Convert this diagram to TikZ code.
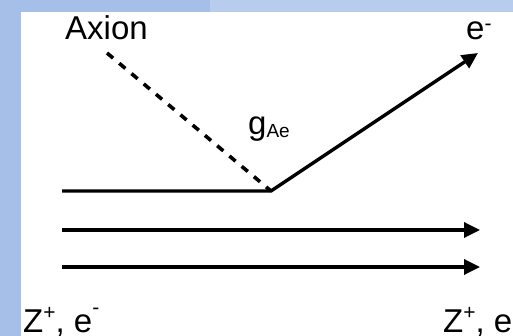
\documentclass[tikz,border=0pt]{standalone}
\usepackage{fontspec}
\setmainfont{Liberation Sans}
\usetikzlibrary{arrows.meta}
\definecolor{stripA}{HTML}{A5BFE8}
\definecolor{stripB}{HTML}{B8CDEE}
\newcommand\supr[2]{\raisebox{#1}{\fontsize{21}{21}\selectfont #2}}
\begin{document}
\begin{tikzpicture}[x=1pt,y=-1pt,
  lbl/.style={inner sep=0pt, anchor=base west, font=\fontsize{33}{40}\selectfont},
  ln/.style={line width=3.4pt},
  arr/.style={ln, line join=miter, -{Triangle[length=16pt,width=15pt]}},
  dsh/.style={line width=3.6pt, dash pattern=on 8pt off 8pt}]
\useasboundingbox (0,0) rectangle (513,336);
\fill[white] (0,0) rectangle (513,336);
\fill[stripA] (0,0) rectangle (21,336);
\fill[stripA] (0,0) rectangle (210,12);
\fill[stripB] (210,0) rectangle (513,12);
\node[lbl] (axion) at (65,40) {Axion};
\node[lbl] (eout) at (466,40) {e\supr{9pt}{-}};
\node[lbl] (gae) at (248,135) {g\raisebox{-3pt}{\fontsize{19}{19}\selectfont Ae}};
\node[lbl] (zl) at (23,332) {Z\supr{13pt}{+}, e\supr{18pt}{-}};
\node[lbl] (zr) at (443,332) {Z\supr{13pt}{+}, e};
\coordinate (a0) at (107,53);
\coordinate (v) at (271,191);
\coordinate (l1) at (62,191);
\coordinate (etip) at (478,53);
\coordinate (l2) at (62,230);
\coordinate (r2) at (480,230);
\coordinate (l3) at (62,267);
\coordinate (r3) at (480,267);
\draw[dsh] (a0) -- (v);
\draw[arr] (l1) -- (v) -- (etip);
\draw[arr] (l2) -- (r2);
\draw[arr] (l3) -- (r3);
\end{tikzpicture}
\end{document}
